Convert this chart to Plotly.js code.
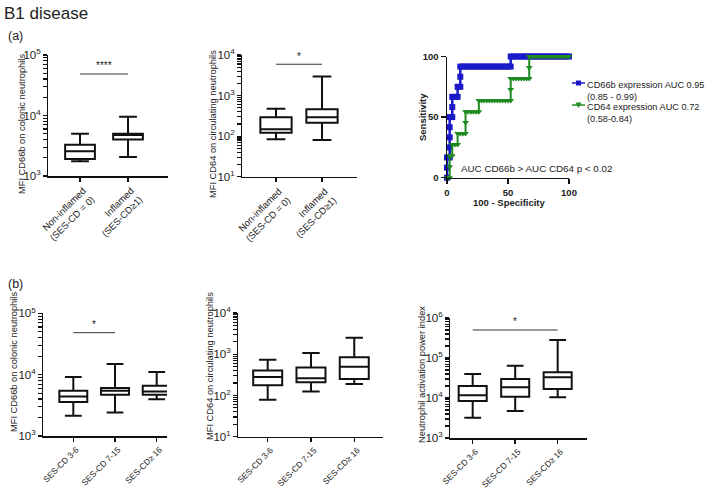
<!DOCTYPE html>
<html>
<head>
<meta charset="utf-8">
<script src="https://cdn.plot.ly/plotly-3.0.1.min.js"></script>
<style>html,body{margin:0;padding:0;background:#fff;}#chart{width:709px;height:489px;}</style>
</head>
<body>
<div id="chart"></div>
<script>
// ---------- DATA ----------
// Panel (a): inflamed vs non-inflamed
const catsA = ['Non-inflamed<br>(SES-CD = 0)', 'Inflamed<br>(SES-CD≥1)'];
const a1Min = [1750, 2060];
const a1Q1  = [1905, 4030];
const a1Med = [2570, 4750];
const a1Q3  = [3300, 5000];
const a1Max = [5000, 9500];

const a2Min = [84, 80];
const a2Q1  = [122, 215];
const a2Med = [148, 293];
const a2Q3  = [293, 460];
const a2Max = [470, 2950];

// ROC curves (100 - specificity, sensitivity)
const rocCD66bX = [0, 0, 0, 2.2, 2.2, 2.2, 2.2, 2.2, 4.3, 4.3, 4.3, 6.5, 8.7, 8.7, 10.9, 10.9, 10.9,
  13.0, 15.2, 17.4, 19.6, 21.7, 23.9, 26.1, 28.3, 30.4, 32.6, 34.8, 37.0, 39.1, 41.3, 43.5, 45.7, 47.8, 50.0, 52.2,
  52.2, 54.3, 56.5, 58.7, 60.9, 63.0, 65.2, 67.4, 69.6, 71.7, 73.9, 76.1, 78.3, 80.4, 82.6, 84.8, 87.0, 89.1, 91.3, 93.5, 95.7, 97.8, 100];
const rocCD66bY = [0, 8.3, 16.7, 16.7, 25, 33.3, 41.7, 50, 50, 58.3, 66.7, 66.7, 66.7, 75, 75, 83.3, 91.7,
  91.7, 91.7, 91.7, 91.7, 91.7, 91.7, 91.7, 91.7, 91.7, 91.7, 91.7, 91.7, 91.7, 91.7, 91.7, 91.7, 91.7, 91.7, 91.7,
  100, 100, 100, 100, 100, 100, 100, 100, 100, 100, 100, 100, 100, 100, 100, 100, 100, 100, 100, 100, 100, 100, 100];
const rocCD64X = [0, 2.2, 2.2, 2.2, 4.3, 4.3, 6.5, 8.7, 8.7, 10.9, 13.0, 15.2, 15.2, 15.2,
  17.4, 19.6, 21.7, 23.9, 26.1, 26.1, 28.3, 30.4, 32.6, 34.8, 37.0, 39.1, 41.3, 43.5, 45.7, 47.8, 50.0, 52.2,
  52.2, 52.2, 54.3, 56.5, 58.7, 60.9, 63.0, 65.2, 67.4, 67.4, 67.4,
  69.6, 71.7, 73.9, 76.1, 78.3, 80.4, 82.6, 84.8, 87.0, 89.1, 91.3, 93.5, 95.7, 97.8, 100];
const rocCD64Y = [0, 0, 9.1, 18.2, 18.2, 27.3, 27.3, 27.3, 36.4, 36.4, 36.4, 36.4, 45.5, 54.5,
  54.5, 54.5, 54.5, 54.5, 54.5, 63.6, 63.6, 63.6, 63.6, 63.6, 63.6, 63.6, 63.6, 63.6, 63.6, 63.6, 63.6, 63.6,
  72.7, 81.8, 81.8, 81.8, 81.8, 81.8, 81.8, 81.8, 81.8, 90.9, 100,
  100, 100, 100, 100, 100, 100, 100, 100, 100, 100, 100, 100, 100, 100, 100];
const rocNames = ['CD66b expression AUC 0.95<br>(0.85 - 0.99)', 'CD64 expression AUC 0.72<br>(0.58-0.84)'];
const rocColors = ['#1a1ac8', '#1f8a1f'];

// Panel (b): SES-CD groups
const catsB = ['SES-CD 3-6', 'SES-CD 7-15', 'SES-CD≥ 16'];
const b1Min = [2130, 2410, 3990];
const b1Q1  = [3570, 4700, 4700];
const b1Med = [4400, 5470, 5330];
const b1Q3  = [5470, 6050, 6600];
const b1Max = [9160, 14970, 11070];

const b2Min = [79, 125, 190];
const b2Q1  = [178, 210, 250];
const b2Med = [280, 260, 500];
const b2Q3  = [405, 480, 850];
const b2Max = [740, 1070, 2500];

const b3Min = [3200, 4700, 10400];
const b3Q1  = [8400, 10800, 16800];
const b3Med = [11700, 18500, 33000];
const b3Q3  = [20000, 30000, 44000];
const b3Max = [40000, 64000, 280000];

// ---------- LAYOUT HELPERS ----------
const W = 709, H = 489;
const FONT = 'Liberation Sans, Arial, sans-serif';
const TXT = '#222';
const fx = p => p / W;
const fy = p => 1 - p / H;
const xd = (l, r) => [fx(l), fx(r)];
const yd = (t, b) => [fy(b), fy(t)];

function boxTrace(cats, mn, q1, md, q3, mx, xa, ya, w) {
  return {
    type: 'box', x: cats, lowerfence: mn, q1: q1, median: md, q3: q3, upperfence: mx,
    xaxis: xa, yaxis: ya, boxpoints: false, width: w, whiskerwidth: 0.6,
    fillcolor: 'rgba(255,255,255,1)', line: {color: '#111', width: 2},
    showlegend: false, hoverinfo: 'skip'
  };
}

// log axis with decade labels and unlabelled 2..9 sub-ticks
function logAxis(dom, range, anchor) {
  const vals = [], text = [];
  for (let d = range[0]; d <= range[1]; d++) {
    vals.push(Math.pow(10, d)); text.push('10<sup>' + d + '</sup>');
    if (d < range[1]) {
      for (let m = 2; m <= 9; m++) { vals.push(m * Math.pow(10, d)); text.push(''); }
    }
  }
  return {
    domain: dom, type: 'log', range: range, tickmode: 'array', tickvals: vals, ticktext: text,
    showline: true, linecolor: '#111', linewidth: 1.5, ticks: 'outside', ticklen: 3.5, tickwidth: 1.2,
    tickcolor: '#111', showgrid: false, zeroline: false, anchor: anchor,
    tickfont: {family: FONT, size: 11.5, color: TXT}
  };
}
function catAxis(dom, range, anchor, fs) {
  return {
    domain: dom, type: 'category', range: range, showline: true, linecolor: '#111', linewidth: 1.5,
    ticks: 'outside', ticklen: 4, tickwidth: 1.5, tickcolor: '#111', tickangle: -45,
    ticklabelshift: 3,
    showgrid: false, zeroline: false, anchor: anchor,
    tickfont: {family: FONT, size: fs, color: TXT}
  };
}

const traces = [
  boxTrace(catsA, a1Min, a1Q1, a1Med, a1Q3, a1Max, 'x', 'y', 0.62),
  boxTrace(catsA, a2Min, a2Q1, a2Med, a2Q3, a2Max, 'x2', 'y2', 0.68),
  {
    type: 'scatter', mode: 'lines+markers', x: rocCD66bX, y: rocCD66bY, xaxis: 'x3', yaxis: 'y3',
    name: rocNames[0], line: {color: rocColors[0], width: 2.5},
    marker: {symbol: 'square', size: 6, color: rocColors[0]}, cliponaxis: false, hoverinfo: 'skip', showlegend: false
  },
  {
    type: 'scatter', mode: 'lines+markers', x: rocCD64X, y: rocCD64Y, xaxis: 'x3', yaxis: 'y3',
    name: rocNames[1], line: {color: rocColors[1], width: 2},
    marker: {symbol: 'triangle-down', size: 6, color: rocColors[1]}, cliponaxis: false, hoverinfo: 'skip', showlegend: false
  },
  boxTrace(catsB, b1Min, b1Q1, b1Med, b1Q3, b1Max, 'x4', 'y4', 0.67),
  boxTrace(catsB, b2Min, b2Q1, b2Med, b2Q3, b2Max, 'x5', 'y5', 0.67),
  boxTrace(catsB, b3Min, b3Q1, b3Med, b3Q3, b3Max, 'x6', 'y6', 0.66)
];

const rocAxisBase = {
  showline: true, linecolor: '#111', linewidth: 1.5, ticks: 'outside', ticklen: 5, tickwidth: 1.5,
  tickcolor: '#111', showgrid: false, zeroline: false, dtick: 50,
  tickfont: {family: FONT, size: 9.5, color: TXT, weight: 'bold'}
};

function ytitle(text, x, y) {
  return {text: text, xref: 'paper', yref: 'paper', x: fx(x), y: fy(y), xanchor: 'center', yanchor: 'middle',
    textangle: -90, showarrow: false, font: {family: FONT, size: 9.3, color: TXT}};
}
function star(text, xr, yr, x, y) {
  return {text: text, xref: xr, yref: yr, x: x, y: y, yanchor: 'bottom', showarrow: false,
    font: {family: FONT, size: 10, color: TXT}};
}

// manual legend icons (line segment + marker) for the ROC panel
const legendShapes = [];
const legendRows = [83, 105];
legendRows.forEach((yy, i) => {
  legendShapes.push({type: 'line', xref: 'paper', yref: 'paper', x0: fx(572), x1: fx(585), y0: fy(yy), y1: fy(yy),
    line: {color: rocColors[i], width: 1.5}});
});
legendShapes.push({type: 'rect', xref: 'paper', yref: 'paper', x0: fx(576), x1: fx(581), y0: fy(85.5), y1: fy(80.5),
  fillcolor: rocColors[0], line: {width: 0}});
legendShapes.push({type: 'path', xref: 'paper', yref: 'paper',
  path: `M ${fx(575.5)} ${fy(102.5)} L ${fx(581.5)} ${fy(102.5)} L ${fx(578.5)} ${fy(108)} Z`,
  fillcolor: rocColors[1], line: {width: 0}});

const layout = {
  width: W, height: H, margin: {l: 0, r: 0, t: 0, b: 0},
  paper_bgcolor: '#fff', plot_bgcolor: 'rgba(0,0,0,0)',
  font: {family: FONT, color: TXT},
  showlegend: false,
  xaxis: catAxis(xd(48, 168), [-0.667, 1.833], 'y', 9.5),
  yaxis: logAxis(yd(55, 176), [3, 5], 'x'),
  xaxis2: catAxis(xd(242, 357), [-0.739, 1.761], 'y2', 9.5),
  yaxis2: logAxis(yd(55, 176.7), [1, 4], 'x2'),
  xaxis3: Object.assign({}, rocAxisBase, {domain: xd(447, 569), range: [0, 100], anchor: 'y3'}),
  yaxis3: Object.assign({}, rocAxisBase, {domain: yd(56.5, 177.7), range: [0, 100], anchor: 'x3'}),
  xaxis4: catAxis(xd(43, 167), [-0.727, 2.247], 'y4', 8.4),
  yaxis4: logAxis(yd(313.3, 436), [3, 5], 'x4'),
  xaxis5: catAxis(xd(238, 383), [-0.686, 2.664], 'y5', 8.4),
  yaxis5: logAxis(yd(313, 436.7), [1, 4], 'x5'),
  xaxis6: catAxis(xd(450, 587), [-0.534, 2.69], 'y6', 8.4),
  yaxis6: logAxis(yd(318, 438), [3, 6], 'x6'),
  shapes: [
    {type: 'line', xref: 'x', yref: 'y domain', x0: 0, x1: 1, y0: 0.843, y1: 0.843, line: {color: '#333', width: 1}},
    {type: 'line', xref: 'x2', yref: 'y2 domain', x0: 0, x1: 1, y0: 0.924, y1: 0.924, line: {color: '#333', width: 1}},
    {type: 'line', xref: 'x4', yref: 'y4 domain', x0: 0, x1: 1, y0: 0.842, y1: 0.842, line: {color: '#333', width: 1}},
    {type: 'line', xref: 'x6', yref: 'y6 domain', x0: 0, x1: 2, y0: 0.9, y1: 0.9, line: {color: '#333', width: 1}}
  ].concat(legendShapes),
  annotations: [
    {text: 'B1 disease', xref: 'paper', yref: 'paper', x: fx(2), y: fy(13), xanchor: 'left', yanchor: 'middle',
      showarrow: false, font: {family: FONT, size: 17, color: TXT}},
    {text: '(a)', xref: 'paper', yref: 'paper', x: fx(6), y: fy(36), xanchor: 'left', yanchor: 'middle',
      showarrow: false, font: {family: FONT, size: 12.5, color: TXT}},
    {text: '(b)', xref: 'paper', yref: 'paper', x: fx(6), y: fy(284), xanchor: 'left', yanchor: 'middle',
      showarrow: false, font: {family: FONT, size: 12.5, color: TXT}},
    star('****', 'x', 'y domain', 0.5, 0.85),
    star('*', 'x2', 'y2 domain', 0.5, 0.93),
    star('*', 'x4', 'y4 domain', 0.5, 0.848),
    star('*', 'x6', 'y6 domain', 1, 0.905),
    ytitle('MFI CD66b on colonic neutrophils', 22, 124),
    ytitle('MFI CD64 on circulating neutrophils', 213, 124),
    ytitle('MFI CD66b on colonic neutrophils', 14, 362),
    ytitle('MFI CD64 on circulating neutrophils', 210, 366),
    ytitle('Neutrophil activation power index', 422, 375),
    // ROC axis titles
    {text: 'Sensitivity', xref: 'paper', yref: 'paper', x: fx(423), y: fy(117), xanchor: 'center', yanchor: 'middle',
      textangle: -90, showarrow: false, font: {family: FONT, size: 9.5, color: TXT, weight: 'bold'}},
    {text: '100 - Specificity', xref: 'paper', yref: 'paper', x: fx(509), y: fy(202), xanchor: 'center', yanchor: 'middle',
      showarrow: false, font: {family: FONT, size: 9.5, color: TXT, weight: 'bold'}},
    // ROC annotation
    {text: 'AUC CD66b > AUC CD64 p < 0.02', xref: 'paper', yref: 'paper', x: fx(459), y: fy(168),
      xanchor: 'left', yanchor: 'middle', showarrow: false, font: {family: FONT, size: 9.8, color: TXT}},
    // manual legend texts
    {text: rocNames[0], xref: 'paper', yref: 'paper', x: fx(585), y: fy(78), xanchor: 'left', yanchor: 'top',
      align: 'left', showarrow: false, font: {family: FONT, size: 9.2, color: TXT}},
    {text: rocNames[1], xref: 'paper', yref: 'paper', x: fx(585), y: fy(100), xanchor: 'left', yanchor: 'top',
      align: 'left', showarrow: false, font: {family: FONT, size: 9.2, color: TXT}}
  ]
};

Plotly.newPlot('chart', traces, layout, {displayModeBar: false, staticPlot: true});
</script>
</body>
</html>
